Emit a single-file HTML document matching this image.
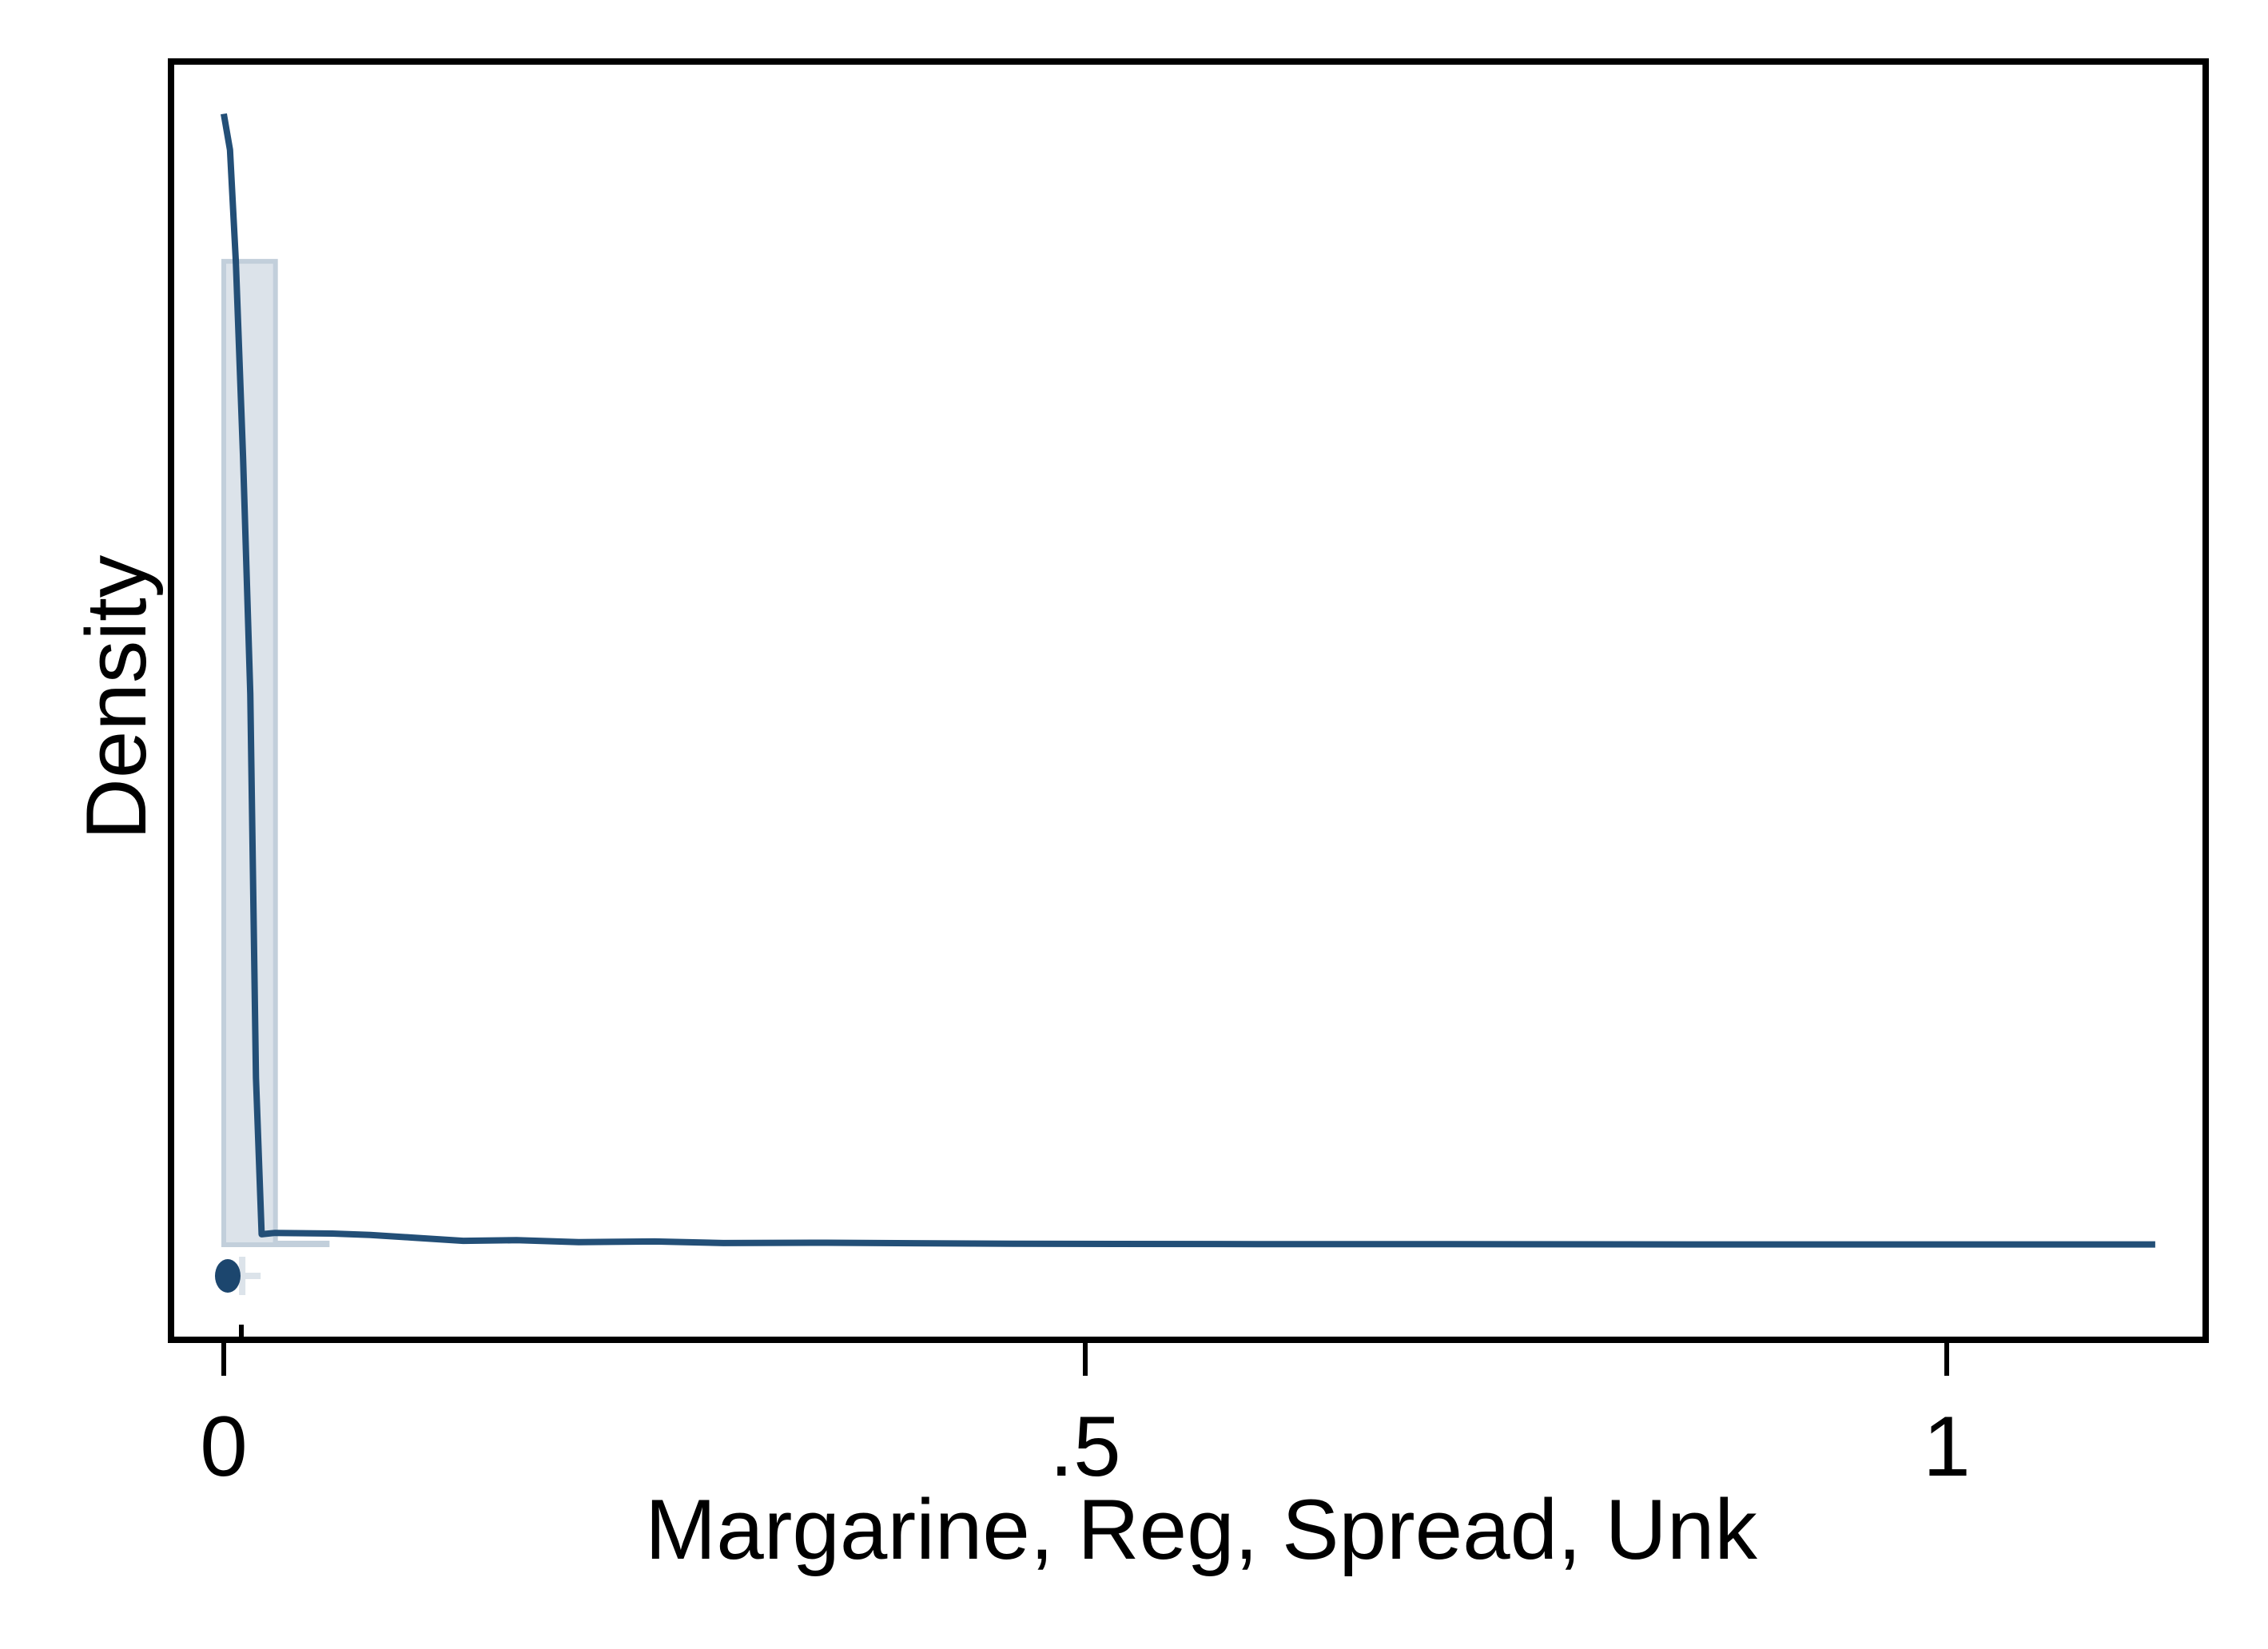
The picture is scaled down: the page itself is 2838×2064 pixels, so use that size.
<!DOCTYPE html>
<html><head><meta charset="utf-8"><style>
html,body{margin:0;padding:0;background:#fff;}
svg{display:block;}
text{font-family:"Liberation Sans",Arial,sans-serif;fill:#000;}
</style></head><body>
<svg id="chart" width="2838" height="2064" viewBox="0 0 2838 2064" xmlns="http://www.w3.org/2000/svg">
<rect x="0" y="0" width="2838" height="2064" fill="#fff"/>
<g id="bars"></g>
<g id="marks"></g>
<path id="kde" fill="none" stroke="#234f77" stroke-width="8" stroke-linejoin="round"/>
<rect x="214" y="77" width="2546" height="1600" fill="none" stroke="#000" stroke-width="8"/>
<g id="xticks"></g>
<text x="1503" y="1951" font-size="107" text-anchor="middle">Margarine, Reg, Spread, Unk</text>
<text x="0" y="0" font-size="107" text-anchor="middle" transform="translate(182,873) rotate(-90)">Density</text>
</svg>
<script>
const binStarts = [0, 0.03];
const binHeights = [30, 0.05];
const binWidth = 0.03;
const kdeX = [0, 0.0036, 0.007, 0.0112, 0.0154, 0.0187, 0.022, 0.0297, 0.063, 0.085, 0.109, 0.139, 0.17, 0.206, 0.25, 0.29, 0.35, 0.458, 0.6, 0.71, 0.85, 1.0, 1.121];
const kdeY = [34.5, 33.4, 30.0, 24.05, 16.8, 5.09, 0.32, 0.36, 0.34, 0.3, 0.22, 0.12, 0.14, 0.08, 0.1, 0.05, 0.06, 0.03, 0.02, 0.02, 0.01, 0.01, 0.01];
const xTicks = [0, 0.5, 1];
const xTickLabels = ["0", ".5", "1"];
const markerValue = 0;
const errorHigh = 0.02;

const X = v => 280 + v * 2156;
const Y = d => 1558 - d * 41.03;
const NS = "http://www.w3.org/2000/svg";
function mk(tag, attrs, parent){const e=document.createElementNS(NS,tag);for(const k in attrs)e.setAttribute(k,attrs[k]);parent.appendChild(e);return e;}

const bars = document.getElementById('bars');
binStarts.forEach((s,i)=>{
  const r = mk('rect',{x:X(s),y:Y(binHeights[i]),width:X(s+binWidth)-X(s),height:Y(0)-Y(binHeights[i]),fill:'#dce3ea',stroke:'#c2cfdb','stroke-width':6},bars);
  
  
});

const marks = document.getElementById('marks');
const eb = mk('line',{x1:X(markerValue),y1:1597,x2:X(errorHigh)+3,y2:1597,stroke:'#dce3ea','stroke-width':8},marks);


const ec = mk('line',{x1:X(errorHigh)-20,y1:1573,x2:X(errorHigh)-20,y2:1621,stroke:'#dce3ea','stroke-width':8},marks);


const dot = mk('ellipse',{cx:X(markerValue)+5,cy:1597,rx:16,ry:21,fill:'#1c466e'},marks);


const it = mk('line',{x1:302,y1:1658,x2:302,y2:1677,stroke:'#000','stroke-width':6},marks);



document.getElementById('kde').setAttribute('d', kdeX.map((x,i)=>(i?'L':'M')+X(x).toFixed(1)+' '+Y(kdeY[i]).toFixed(1)).join(' '));

const xt = document.getElementById('xticks');
xTicks.forEach((t,i)=>{
  const l = mk('line',{x1:X(t),y1:1681,x2:X(t),y2:1722,stroke:'#000','stroke-width':6},xt);
  
  
  const tx = mk('text',{x:X(t),y:1847,'font-size':107,'text-anchor':'middle'},xt);
  tx.textContent = xTickLabels[i];
  
  
});
</script>
</body></html>
